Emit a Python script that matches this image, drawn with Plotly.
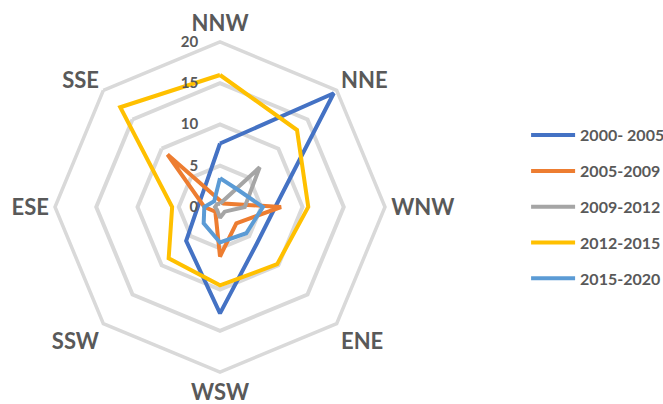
import plotly.graph_objects as go

# Wind direction categories, clockwise from the top
directions = ["NNW", "NNE", "WNW", "ENE", "WSW", "SSW", "ESE", "SSE"]

period_names = ["2000- 2005", "2005-2009", "2009-2012", "2012-2015", "2015-2020"]

values_2000_2005 = [7.7, 19.5, 6.7, 6.3, 12.9, 5.8, 2.7, 2.8]
values_2005_2009 = [0.8, 0.6, 7.4, 2.8, 6.0, 0.8, 1.9, 9.0]
values_2009_2012 = [0.4, 6.8, 3.0, 0.8, 1.3, 0.5, 0.6, 0.5]
values_2012_2015 = [16.0, 13.2, 10.7, 9.8, 9.5, 8.8, 5.8, 17.1]
values_2015_2020 = [3.5, 3.0, 5.2, 4.5, 4.3, 2.8, 1.9, 1.0]

radial_ticks = [0, 5, 10, 15, 20]

series = [values_2000_2005, values_2005_2009, values_2009_2012,
          values_2012_2015, values_2015_2020]
colors = ["#4472C4", "#ED7D31", "#A5A5A5", "#FFC000", "#5B9BD5"]

text_color = "#595959"
grid_color = "#D9D9D9"
font_family = "Lato"

fig = go.Figure()
for name, vals, col in zip(period_names, series, colors):
    fig.add_trace(go.Scatterpolar(
        r=vals + vals[:1],
        theta=directions + directions[:1],
        mode="lines",
        name=name,
        legendgroup=name,
        line=dict(color=col, width=4),
    ))

fig.update_layout(
    width=663,
    height=404,
    margin=dict(l=0, r=0, t=0, b=0, autoexpand=False),
    paper_bgcolor="white",
    plot_bgcolor="white",
    font=dict(family=font_family, color=text_color),
    polar=dict(
        domain=dict(x=[55 / 663, 385 / 663], y=[1 - 372 / 404, 1 - 42 / 404]),
        bgcolor="white",
        gridshape="linear",
        radialaxis=dict(
            range=[0, 20],
            tickvals=radial_ticks,
            ticktext=[str(v) for v in radial_ticks],
            angle=90,
            tickangle=90,
            side="counterclockwise",
            showline=False,
            ticks="outside",
            ticklen=16,
            tickcolor="rgba(0,0,0,0)",
            gridcolor=grid_color,
            gridwidth=3.5,
            tickfont=dict(size=15, color=text_color, family=font_family, weight="bold"),
        ),
        angularaxis=dict(
            rotation=90,
            direction="clockwise",
            showgrid=False,
            showline=True,
            linecolor=grid_color,
            linewidth=3.5,
            ticks="",
            tickfont=dict(size=22, color=text_color, family=font_family, weight="bold"),
        ),
    ),
    legend=dict(
        x=0.7935,
        y=0.7074,
        xanchor="left",
        yanchor="top",
        itemwidth=44,
        font=dict(size=16, color=text_color, family=font_family, weight="bold"),
        tracegroupgap=12,
        traceorder="grouped",
        bgcolor="rgba(0,0,0,0)",
    ),
)

fig.write_html("out.html")
